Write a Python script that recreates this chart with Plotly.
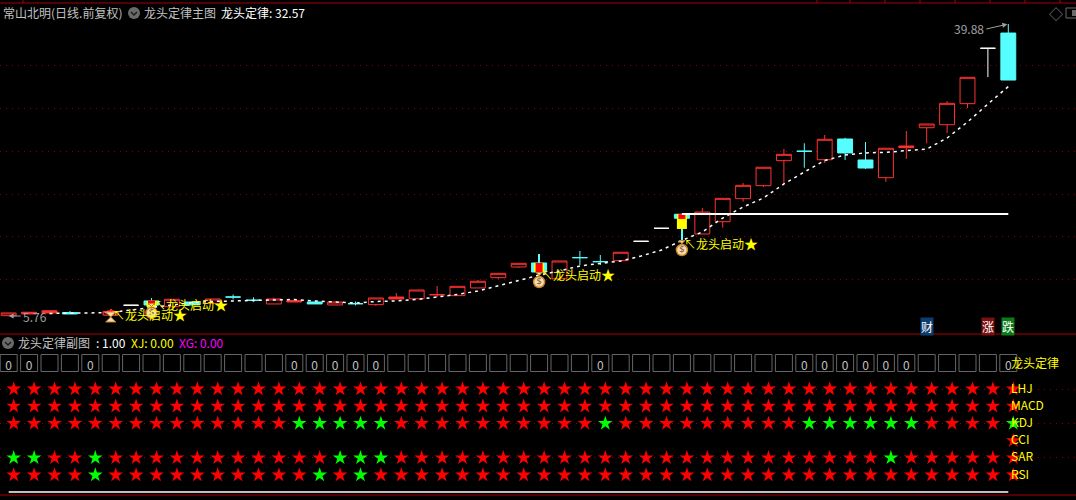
import plotly.graph_objects as go

# ---------- data ----------
days = list(range(50))
style = list("RSSC.RWGRCRCCRSCRCRSRSRRRRGRCCRWWGRRRRRCRCCRSRRRWC")
opens = [5.80, 6.00, 6.12, 6.17, None, 5.88, 7.02, 7.52, 6.85, 7.40,
         7.23, 7.98, 7.60, 7.17, 7.40, 7.40, 7.05, 7.20, 7.09, 7.75,
         7.78, 8.25, 8.14, 9.04, 10.24, 11.49, 11.96, 10.12, 12.58, 12.11,
         12.23, 14.49, 16.01, 17.65, 15.34, 16.78, 19.47, 20.99, 23.91, 25.01,
         24.02, 26.44, 23.99, 21.92, 25.43, 27.76, 28.11, 30.57, 37.04, 38.82]
highs = [6.12, 6.20, 6.38, 6.35, None, 6.58, 7.02, 7.87, 7.72, 7.40,
         7.75, 8.28, 7.95, 7.93, 7.55, 7.40, 7.40, 7.46, 7.87, 8.45,
         8.80, 9.27, 9.23, 9.97, 10.75, 11.92, 13.01, 12.19, 13.36, 12.89,
         13.21, 14.49, 16.01, 17.65, 18.38, 19.51, 21.30, 23.14, 25.27, 25.94,
         26.91, 26.59, 26.09, 25.36, 27.38, 28.19, 30.88, 33.65, 37.04, 39.88]
lows = [5.76, 6.00, 6.12, 6.00, None, 5.88, 7.02, 7.05, 6.85, 7.05,
        7.23, 7.69, 7.44, 7.17, 7.40, 7.17, 7.05, 6.99, 6.93, 7.75,
        7.78, 7.98, 8.14, 9.04, 10.09, 11.37, 10.90, 10.12, 11.72, 11.72,
        12.13, 14.49, 16.01, 14.64, 15.34, 16.08, 19.12, 20.83, 21.19, 23.09,
        23.64, 23.99, 22.94, 21.42, 24.11, 25.94, 27.14, 30.06, 33.68, 33.33]
closes = [6.12, 6.20, 6.38, 6.00, None, 6.29, 7.02, 7.05, 7.72, 7.05,
          7.75, 7.98, 7.60, 7.75, 7.55, 7.17, 7.40, 7.20, 7.87, 7.98,
          8.80, 8.25, 9.23, 9.82, 10.75, 11.92, 10.90, 12.19, 12.58, 12.11,
          13.21, 14.49, 16.01, 17.18, 17.91, 19.51, 21.03, 23.14, 24.65, 25.01,
          26.41, 24.81, 23.05, 25.36, 25.62, 28.19, 30.61, 33.65, 37.04, 33.33]
ma_line = [None, None, 6.06, 6.06, 6.12, 6.17, 6.47, 6.82, 7.11, 7.34,
           7.46, 7.52, 7.58, 7.63, 7.69, 7.52, 7.40, 7.28, 7.46, 7.52,
           7.69, 7.95, 8.28, 8.69, 9.27, 9.91, 10.55, 11.02, 11.61, 11.90,
           12.19, 12.77, 13.47, 14.59, 15.58, 17.21, 18.50, 19.55, 21.19, 22.59,
           23.93, 24.57, 24.81, 24.89, 25.04, 25.27, 26.56, 28.43, 30.53, 32.57]
price_grid = [10, 15, 20, 25, 30, 35]
support_days = [33, 49]
support_level = [17.68, 17.68]

signal_days = [5, 7, 26, 33]
signal_edge = ["#000000", "#55ffff", "#55ffff", "#55ffff"]
signal_line = ["#ff3232", "#55ffff", "#55ffff", "#55ffff"]
yellow_days = [7, 26, 33]
yellow_top = [7.52, 11.96, 17.65]
yellow_bot = [6.82, 10.90, 15.93]
core_top = [6.47, 7.58, 11.96, 17.65]
core_bot = [6.00, 7.11, 10.90, 17.10]
bag_days = [7, 26, 33]
bag_price = [6.12, 9.74, 13.47]
glass_days = [5]
glass_price = [5.65]
label_price = [5.88, 7.05, 10.55, 14.18]
label_text = "↖龙头启动<span style='font-size:14px'>★</span>"

event_days = [45, 48, 49]
event_text = ["财", "涨", "跌"]
event_color = ["#0f3c6e", "#7a1010", "#0b7a1a"]
event_price = 4.60

box_row = 7.51
zero_row = 7.30
zero_days = [0, 1, 4, 14, 15, 16, 17, 18, 29, 39, 40, 41, 42, 43, 44, 49]
row_names = ["LHJ", "MACD", "KDJ", "CCI", "SAR", "RSI"]
row_level = [6, 5, 4, 3, 2, 1]
row_days = {
    "LHJ": days, "MACD": days, "KDJ": days,
    "CCI": [49], "SAR": days, "RSI": days,
}
green_days = {
    "LHJ": [], "MACD": [],
    "KDJ": [14, 15, 16, 17, 18, 29, 39, 40, 41, 42, 43, 44, 49],
    "CCI": [],
    "SAR": [0, 1, 4, 16, 17, 18, 43],
    "RSI": [4, 15, 17],
}
sub_grid = [2, 4, 6]
sub_base = [0.01, 0.01]
sub_base_days = [0, 49]

# ---------- style ----------
W, H = 1076, 500
RED = "#ff3232"
CYAN = "#55ffff"
GRID = "#8a0000"
SEP = "#a80000"
GREY = "#c0c0c0"
YELLOW = "#ffff00"
FONT = "Noto Sans CJK SC"
STEP = 20.4
X0 = 8.7
BODY = 15 / STEP
x_range = [(0 - X0) / STEP, (W - X0) / STEP]
star_offset = 5 / STEP


def px(x):
    return x / W


def py(y):
    return 1 - y / H


fig = go.Figure()

# signal candles (layered bars)
sig_high = [highs[d] for d in signal_days]
sig_low = [lows[d] for d in signal_days]
sig_top = [max(opens[d], closes[d]) for d in signal_days]
sig_bot = [min(opens[d], closes[d]) for d in signal_days]
fig.add_bar(x=signal_days, base=sig_low, y=[h - l for h, l in zip(sig_high, sig_low)],
            width=1 / STEP, marker=dict(color=signal_line, line_width=0), hoverinfo="skip")
fig.add_bar(x=signal_days, base=sig_bot, y=[t - b for t, b in zip(sig_top, sig_bot)],
            width=BODY, marker=dict(color=signal_edge, line=dict(color=signal_line, width=1)), hoverinfo="skip")
fig.add_bar(x=yellow_days, base=yellow_bot, y=[t - b for t, b in zip(yellow_top, yellow_bot)],
            width=10 / STEP, marker=dict(color=YELLOW, line_width=0), hoverinfo="skip")
fig.add_bar(x=signal_days, base=core_bot, y=[t - b for t, b in zip(core_top, core_bot)],
            width=7 / STEP, marker=dict(color="#ff0000", line_width=0), hoverinfo="skip")

# ordinary candles, one trace per drawing style
looks = {"R": (RED, "#000000"), "S": (RED, RED), "C": (CYAN, CYAN), "W": ("#ffffff", "#ffffff")}
for code, (line, fill) in looks.items():
    idx = [d for d in days if style[d] == code]
    fig.add_candlestick(
        x=idx,
        open=[opens[d] for d in idx], high=[highs[d] for d in idx],
        low=[lows[d] for d in idx], close=[closes[d] for d in idx],
        increasing=dict(line=dict(color=line, width=1), fillcolor=fill),
        decreasing=dict(line=dict(color=line, width=1), fillcolor=fill),
        whiskerwidth=0, hoverinfo="skip", showlegend=False,
    )

# moving line and support line
fig.add_scatter(x=days, y=ma_line, mode="lines",
                line=dict(color="#ffffff", width=1.5, dash="3px,4px"), hoverinfo="skip")
fig.add_scatter(x=support_days, y=support_level, mode="lines",
                line=dict(color="#ffffff", width=2), hoverinfo="skip")

# signal icons
fig.add_scatter(x=glass_days, y=glass_price, mode="markers", hoverinfo="skip",
                marker=dict(symbol="hourglass", size=10, color="#f5deb3", line=dict(color="#c8862a", width=1)))
fig.add_scatter(x=bag_days, y=[p + 0.75 for p in bag_price], mode="markers", hoverinfo="skip",
                marker=dict(symbol="hourglass", size=6, color="#f5deb3", line=dict(color="#c8862a", width=1)))
fig.add_scatter(x=bag_days, y=bag_price, mode="markers+text", text=["$"] * len(bag_days),
                textposition="middle center", textfont=dict(color="#7a4a10", size=9, family="DejaVu Sans"),
                hoverinfo="skip",
                marker=dict(symbol="circle", size=11, color="#f5deb3", line=dict(color="#c8862a", width=1.5)))

# lower panel: boxes, stars, base line
fig.add_scatter(x=days, y=[box_row] * len(days), xaxis="x2", yaxis="y2", mode="markers", hoverinfo="skip",
                marker=dict(symbol="square-open", size=17, color="#666666", line=dict(color="#666666", width=1)))
fig.add_scatter(x=zero_days, y=[zero_row] * len(zero_days), xaxis="x2", yaxis="y2", mode="text",
                text=["0"] * len(zero_days), textfont=dict(color=GREY, size=12, family=FONT), hoverinfo="skip")
for name, level in zip(row_names, row_level):
    xs = row_days[name]
    fig.add_scatter(
        x=[d + star_offset for d in xs], y=[level] * len(xs), xaxis="x2", yaxis="y2",
        mode="markers", hoverinfo="skip",
        marker=dict(symbol="star", size=11, line_width=0,
                    color=["#00ff00" if d in green_days[name] else "#ff0000" for d in xs]),
    )
fig.add_scatter(x=sub_base_days, y=sub_base, xaxis="x2", yaxis="y2", mode="lines",
                line=dict(color="#ffffff", width=1.5), hoverinfo="skip")

# ---------- text ----------
ann = []


def label(x, y, text, color, size=12):
    ann.append(dict(xref="paper", yref="paper", x=px(x), y=py(y), text=text, showarrow=False,
                    xanchor="left", yanchor="middle", font=dict(color=color, size=size, family=FONT)))


label(1, 12, "常山北明(日线.前复权)", GREY)
label(142, 12, "龙头定律主图", GREY)
label(219, 12, "龙头定律: 32.57", "#ffffff")
label(16, 342, "龙头定律副图", GREY)
label(94, 342, ": 1.00", "#ffffff")
label(129, 342, "XJ: 0.00", YELLOW)
label(177, 342, "XG: 0.00", "#ff00ff")
label(1047, 13, "◇", "#808080", 14)

for d, p in zip(signal_days, label_price):
    ann.append(dict(xref="x", yref="y", x=d, y=p, xshift=0, yshift=1, text=label_text, showarrow=False,
                    xanchor="left", yanchor="middle", font=dict(color=YELLOW, size=12, family=FONT)))
for d, t, c in zip(event_days, event_text, event_color):
    ann.append(dict(xref="x", yref="y", x=d, y=event_price, text=t, showarrow=False, bgcolor=c,
                    borderpad=0, yshift=-1, font=dict(color="#ffffff", size=12, family=FONT)))
for name, level in zip(row_names, row_level):
    ann.append(dict(xref="x2", yref="y2", x=49, y=level, xshift=1, yshift=2, text=name, showarrow=False,
                    xanchor="left", yanchor="middle", font=dict(color=YELLOW, size=12, family=FONT)))
ann.append(dict(xref="x2", yref="y2", x=49, y=box_row, xshift=1, yshift=1, text="龙头定律", showarrow=False,
                xanchor="left", yanchor="middle", font=dict(color=YELLOW, size=12, family=FONT)))
ann.append(dict(xref="x", yref="y", x=49, y=highs[49], text="39.88", ax=-22, ay=5, xanchor="right",
                showarrow=True, arrowhead=2, arrowsize=1, arrowwidth=1, arrowcolor="#a0a0a0", standoff=1,
                font=dict(color="#a0a0a0", size=12, family=FONT)))
ann.append(dict(xref="x", yref="y", x=0, y=lows[0], text="5.76", ax=12, ay=0, xanchor="left",
                showarrow=True, arrowhead=2, arrowsize=1, arrowwidth=1, arrowcolor="#a0a0a0", standoff=0,
                font=dict(color="#a0a0a0", size=12, family=FONT)))

# ---------- frame ----------
shapes = []
for y in (3, 334, 495):
    shapes.append(dict(type="line", xref="paper", yref="paper", x0=0, x1=1, y0=py(y), y1=py(y),
                       line=dict(color=SEP, width=1)))
for x in (23, 817, 850, 885, 920, 955, 990, 1025, 1060):
    shapes.append(dict(type="line", xref="paper", yref="paper", x0=px(x), x1=px(x), y0=py(0), y1=py(3),
                       line=dict(color=SEP, width=1)))
for cx, cy in ((134, 13), (8, 343)):
    shapes.append(dict(type="circle", xref="paper", yref="paper", x0=px(cx - 6), x1=px(cx + 6),
                       y0=py(cy + 6), y1=py(cy - 6), fillcolor="#6a6a6a", line_width=0))
    shapes.append(dict(type="path", xref="paper", yref="paper",
                       path=f"M{px(cx - 3)},{py(cy - 1)} L{px(cx)},{py(cy + 2)} L{px(cx + 3)},{py(cy - 1)}",
                       line=dict(color="#1c1c1c", width=1.5)))
shapes.append(dict(type="rect", xref="paper", yref="paper", x0=px(1066), x1=px(1085), y0=py(18), y1=py(8),
                   line=dict(color="#6a6a6a", width=1)))
shapes.append(dict(type="rect", xref="paper", yref="paper", x0=px(1072), x1=px(1076), y0=py(16), y1=py(10),
                   fillcolor="#6a6a6a", line_width=0))

hidden = dict(showticklabels=False, ticks="", showline=False, zeroline=False, fixedrange=True)
fig.update_layout(
    width=W, height=H, margin=dict(l=0, r=0, t=0, b=0),
    paper_bgcolor="#000000", plot_bgcolor="#000000", showlegend=False,
    barmode="overlay", boxgap=0.27, boxgroupgap=0,
    annotations=ann, shapes=shapes,
    xaxis=dict(range=x_range, showgrid=False, rangeslider=dict(visible=False), anchor="y", **hidden),
    yaxis=dict(domain=[py(334), py(3)], range=[3.66, 42.33], tickvals=price_grid, showgrid=True,
               gridcolor=GRID, griddash="1px,5px", gridwidth=1, anchor="x", **hidden),
    xaxis2=dict(range=x_range, showgrid=False, anchor="y2", **hidden),
    yaxis2=dict(domain=[py(495), py(334)], range=[-0.163, 9.198], tickvals=sub_grid, showgrid=True,
                gridcolor=GRID, griddash="1px,5px", gridwidth=1, anchor="x2", **hidden),
)

fig.write_html("out.html", config={"displayModeBar": False},
               post_script="document.body.style.margin='0';document.body.style.background='#000';"
                           "document.body.style.overflow='hidden';")
